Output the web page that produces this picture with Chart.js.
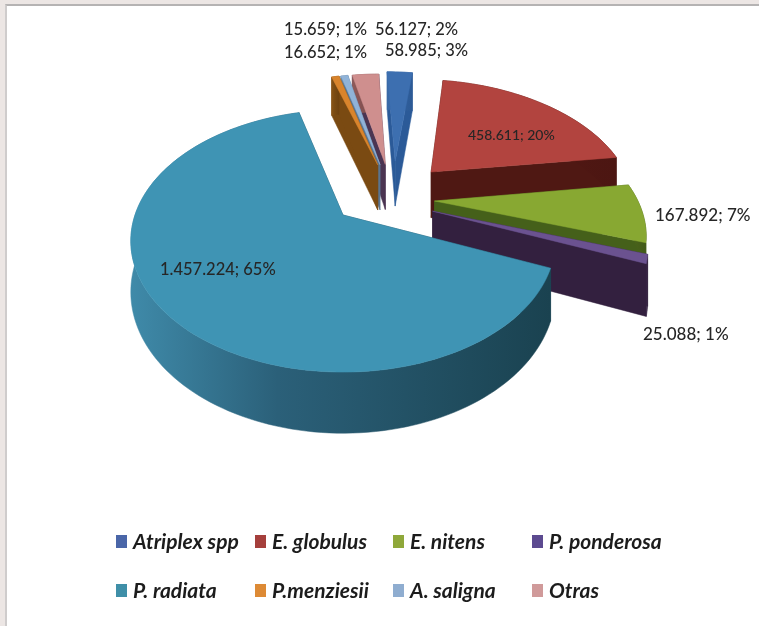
<!DOCTYPE html>
<html lang="en">
<head>
  <meta charset="UTF-8" />
  <title>Superficie por especie</title>
  <script src="https://cdn.jsdelivr.net/npm/chart.js"></script>
  <style>
    html, body { margin: 0; background: #ece6e4; }
    #wrap { position: relative; width: 759px; height: 626px; overflow: hidden; }
    #frame { position: absolute; left: 5px; top: 4px; right: 0; bottom: 0; background: #fff;
             border-top: 2px solid #b5b3b3; border-left: 2px solid #cfcccc; }
    canvas { position: absolute; left: 0; top: 0; filter: blur(0.5px); }
  </style>
</head>
<body>
  <div id="wrap">
    <div id="frame"></div>
    <canvas id="pieChart" width="759" height="626"></canvas>
  </div>

  <script>
    const categories = ["Atriplex spp", "E. globulus", "E. nitens", "P. ponderosa", "P. radiata", "P.menziesii", "A. saligna", "Otras"];
    const values = [56127, 458611, 167892, 25088, 1457224, 16652, 15659, 58985];

    const topColors = ["#3d6fb0", "#b2443f", "#88a832", "#6b5290", "#3f94b4", "#d9842c", "#90b3d8", "#cf8f8e"];
    const sideColors = ["#2b5a98", "#4f1813", "#45601a", "#33203f", "#1d4a5c", "#7a4a12", "#5a7590", "#4b3552"];
    const wallLeft = ["#3a6aa8", "#5a1c16", "#4d6a1e", "#3a2648", "#3f8aa9", "#8a5516", "#6a88a6", "#8f5a5a"];
    const wallMid = ["#33629f", "#531914", "#49621b", "#352242", "#2b6079", "#7c4c13", "#5d7c99", "#855252"];
    const wallRight = ["#2c5a96", "#4c1612", "#425a18", "#2f1d3b", "#1a4250", "#6e4210", "#50708c", "#7a4a4a"];
    const legendColors = ["#4a66a8", "#a53f3c", "#8fa83a", "#5c4a90", "#3f8fa8", "#dd8a35", "#8fadd0", "#d09a9a"];

    // label anchors, left edge and middle of the text
    const labelX = [375, 468, 655, 643, 160, 284, 284, 385];
    const labelY = [30, 135, 216, 335, 270, 53, 30, 51];
    const labelSize = [16.5, 14, 17, 17, 16.5, 16.5, 16.5, 16.5];
    const legendColX = [116, 255, 393, 532];
    const legendRowY = [542, 591];

    const drawOrder = [7, 6, 5, 0, 1, 2, 3, 4];

    // per slice correction of the explode position, in pie radii
    const nudgeU = [0.05, 0.06, -0.02, -0.02, 0, 0.04, 0.04, 0.04];
    const nudgeV = [-0.13, -0.09, 0, 0.03, 0, -0.1, -0.1, -0.1];

    // projection of the pie plane on the screen
    const centerX = 343, centerY = 215, radiusX = 208, radiusY = 126, persp = 0.198, depth = 49;
    const explodeY = 0.76;
    const radiataIndex = 4;

    const total = values.reduce((a, b) => a + b, 0);

    function labelText(i) {
      const num = String(values[i]).replace(/\B(?=(\d{3})+(?!\d))/g, ".");
      return num + "; " + Math.round(values[i] / total * 100) + "%";
    }

    function project(u, v) {
      const w = 1 - persp * v;
      return { x: centerX + radiusX * u / w, y: centerY + radiusY * v / w, drop: depth / w };
    }

    function offsetOf(arc, i) {
      const mid = (arc.startAngle + arc.endAngle) / 2;
      const k = arc.options.offset / arc.outerRadius;
      return { u: Math.cos(mid) * k + nudgeU[i], v: Math.sin(mid) * k * explodeY + nudgeV[i] };
    }

    function polygon(ctx, pts, fill) {
      ctx.beginPath();
      pts.forEach((p, i) => i ? ctx.lineTo(p.x, p.y) : ctx.moveTo(p.x, p.y));
      ctx.closePath();
      ctx.fillStyle = fill;
      ctx.fill();
      ctx.strokeStyle = fill;
      ctx.lineWidth = 0.5;
      ctx.stroke();
    }

    const pie3d = {
      id: "pie3d",
      beforeDatasetsDraw(chart) {
        const ctx = chart.ctx;
        const arcs = chart.getDatasetMeta(0).data;
        const base = offsetOf(arcs[radiataIndex], radiataIndex);

        drawOrder.forEach(i => {
          const arc = arcs[i];
          const off = offsetOf(arc, i);
          const start = arc.startAngle, end = arc.endAngle;
          const apexTop = project(off.u - base.u, off.v - base.v);
          const apexBottom = { x: apexTop.x, y: apexTop.y + apexTop.drop };

          const rim = [];
          const steps = Math.max(2, Math.ceil((end - start) / 0.03));
          for (let s = 0; s <= steps; s++) {
            const a = start + (end - start) * s / steps;
            rim.push(project(Math.cos(a) + off.u - base.u, Math.sin(a) + off.v - base.v));
          }
          const rimBottom = rim.map(p => ({ x: p.x, y: p.y + p.drop }));

          polygon(ctx, [apexTop, rim[0], rimBottom[0], apexBottom], sideColors[i]);
          const last = rim.length - 1;
          polygon(ctx, [apexTop, rim[last], rimBottom[last], apexBottom], sideColors[i]);

          const xs = rim.map(p => p.x);
          const grad = ctx.createLinearGradient(Math.min(...xs), 0, Math.max(...xs), 0);
          grad.addColorStop(0, wallLeft[i]);
          grad.addColorStop(0.35, wallMid[i]);
          grad.addColorStop(1, wallRight[i]);
          polygon(ctx, rim.concat(rimBottom.slice().reverse()), grad);

          polygon(ctx, [apexTop].concat(rim), topColors[i]);
        });

        ctx.textBaseline = "middle";
        ctx.textAlign = "left";
        ctx.fillStyle = "#262626";
        categories.forEach((c, i) => {
          ctx.font = "500 " + labelSize[i] + "px Lato";
          ctx.fillText(labelText(i), labelX[i], labelY[i]);
        });

        // legend, two rows on fixed columns
        categories.forEach((c, i) => {
          const x = legendColX[i % 4], y = legendRowY[Math.floor(i / 4)];
          ctx.fillStyle = legendColors[i];
          ctx.fillRect(x, y - 7, 11, 13);
          ctx.fillStyle = "#1c1c1c";
          ctx.font = "italic 700 21px Lato";
          ctx.fillText(c, x + 17, y);
        });
        return false;
      }
    };

    new Chart(document.getElementById("pieChart"), {
      type: "pie",
      data: {
        labels: categories,
        datasets: [{ data: values, backgroundColor: topColors, borderWidth: 0, offset: 74 }]
      },
      options: {
        responsive: false,
        animation: false,
        plugins: { legend: { display: false }, tooltip: { enabled: false } }
      },
      plugins: [pie3d]
    });
  </script>
</body>
</html>
